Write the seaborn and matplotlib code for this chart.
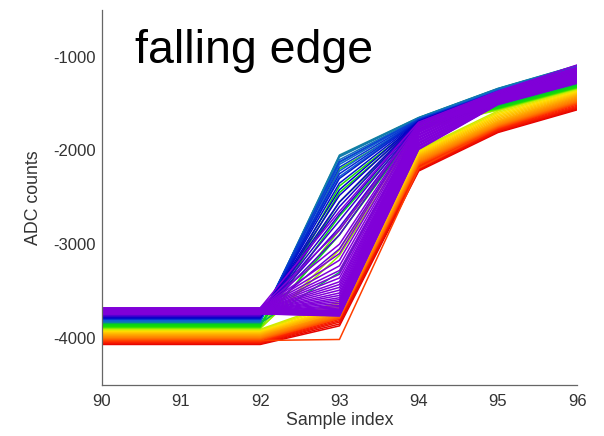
import matplotlib
matplotlib.use("Agg")
import matplotlib.pyplot as plt
from matplotlib.colors import LinearSegmentedColormap
import seaborn as sns
import pandas as pd

# ---- data (ADC counts) ----
# flat level at samples 90, 91, 92 for each trace
level = [
    # red
    -4068, -4062, -4056, -4050, -4044, -4038, -4032,
    # orange
    -4026, -4019, -4012, -4005, -3998, -3991, -3984, -3977, -3970, -3963,
    # yellow
    -3956, -3949, -3942, -3935, -3928, -3921, -3914, -3907,
    # yellow-green
    -3900, -3894, -3888,
    # green
    -3882, -3875, -3868, -3861, -3854, -3847, -3840,
    # teal
    -3833, -3830, -3826, -3819, -3816, -3812, -3808, -3805,
    # blue
    -3798, -3795, -3791, -3788, -3784, -3781, -3777, -3774, -3770, -3767,
    -3763, -3760, -3756, -3749,
    # violet
    -3742, -3741, -3739, -3736, -3735, -3733, -3730, -3729, -3727, -3724,
    -3723, -3721, -3718, -3717, -3715, -3712, -3711, -3709, -3706, -3705,
    -3703, -3700, -3699, -3697, -3694, -3693, -3691, -3688, -3687, -3685,
    -3682, -3681, -3679,
]
s93 = [
    -3870, -3850, -3830, -3815, -3800, -3785, -3770,
    -4015, -3790, -3780, -3770, -3760, -3750, -3740, -3730, -3720, -3710,
    -3720, -3700, -3690, -3680, -3670, -3650, -3630, -3610,
    -3060, -3120, -2850,
    -2200, -2380, -2450, -2550, -2700, -2900, -3300,
    -2050, -2060, -2070, -2100, -2130, -2150, -2280, -2220,
    -2120, -2180, -2250, -2300, -2350, -2420, -2480, -2550, -2600, -2680,
    -2750, -2820, -2900, -3050,
    -3765, -3760, -3755, -3750, -3745, -3740, -3735, -3725, -3715, -3705,
    -3695, -3680, -3665, -3650, -3630, -3610, -3590, -3570, -3545, -3520,
    -3490, -3460, -3430, -3400, -3360, -3320, -3280, -3230, -3170, -3100,
    -3000, -2850, -2650,
]
s94 = [
    -2220, -2210, -2200, -2190, -2180, -2170, -2160,
    -2190, -2150, -2140, -2130, -2120, -2110, -2100, -2090, -2080, -2070,
    -2060, -2050, -2040, -2030, -2020, -2010, -2000, -1990,
    -1760, -1780, -1740,
    -1700, -1710, -1720, -1730, -1740, -1750, -1770,
    -1650, -1652, -1655, -1660, -1664, -1668, -1680, -1675,
    -1670, -1675, -1680, -1685, -1690, -1692, -1695, -1698, -1700, -1705,
    -1710, -1715, -1720, -1730,
    -1990, -1985, -1975, -1960, -1952, -1945, -1930, -1922, -1915, -1900,
    -1892, -1885, -1870, -1862, -1855, -1840, -1832, -1825, -1810, -1805,
    -1800, -1790, -1785, -1780, -1770, -1765, -1760, -1745, -1738, -1730,
    -1722, -1715, -1700,
]
s95 = [
    -1810, -1800, -1795, -1788, -1780, -1772, -1765,
    -1760, -1755, -1748, -1740, -1732, -1725, -1718, -1710, -1700, -1690,
    -1685, -1670, -1655, -1640, -1625, -1610, -1595, -1580,
    -1572, -1566, -1560,
    -1555, -1550, -1545, -1540, -1535, -1528, -1520,
    -1340, -1342, -1345, -1350, -1355, -1358, -1368, -1365,
    -1370, -1372, -1375, -1378, -1380, -1382, -1385, -1388, -1390, -1392,
    -1395, -1398, -1400, -1410,
    -1512, -1508, -1505, -1498, -1494, -1491, -1484, -1480, -1477, -1470,
    -1466, -1463, -1456, -1452, -1449, -1442, -1438, -1435, -1428, -1424,
    -1421, -1414, -1410, -1407, -1400, -1396, -1393, -1386, -1383, -1380,
    -1377, -1375, -1370,
]
s96 = [
    -1568, -1560, -1550, -1540, -1530, -1518, -1505,
    -1500, -1495, -1488, -1480, -1470, -1460, -1450, -1440, -1430, -1420,
    -1412, -1403, -1394, -1385, -1376, -1367, -1358, -1348,
    -1345, -1340, -1335,
    -1330, -1325, -1320, -1315, -1308, -1300, -1292,
    -1095, -1098, -1100, -1105, -1108, -1110, -1120, -1118,
    -1125, -1128, -1130, -1132, -1135, -1138, -1140, -1145, -1150, -1155,
    -1160, -1165, -1170, -1180,
    -1285, -1280, -1275, -1265, -1260, -1255, -1246, -1241, -1237, -1228,
    -1224, -1220, -1212, -1208, -1204, -1196, -1192, -1188, -1180, -1176,
    -1172, -1164, -1160, -1156, -1148, -1144, -1140, -1132, -1128, -1124,
    -1118, -1115, -1090,
]
samples = [90, 91, 92, 93, 94, 95, 96]
xticks = [90, 91, 92, 93, 94, 95, 96]
yticks = [-4000, -3000, -2000, -1000]
title_text = "falling edge"

# ---- long-form table ----
rows = []
for i, lv in enumerate(level):
    vals = [lv, lv, lv, s93[i], s94[i], s95[i], s96[i]]
    for x, v in zip(samples, vals):
        rows.append({"trace": i, "level": lv, "sample": x, "adc": v})
df = pd.DataFrame(rows)

cmap = LinearSegmentedColormap.from_list(
    "spectrum",
    [(0.00, "#e40000"), (0.10, "#ff2800"), (0.22, "#ff7800"), (0.34, "#ffaa00"),
     (0.45, "#ffe000"), (0.52, "#b4f000"), (0.58, "#22e000"), (0.69, "#00d020"),
     (0.71, "#12889a"), (0.80, "#1060d8"), (0.88, "#0000c8"), (1.00, "#8000d8")],
)

sns.set_theme(style="white")
plt.rcParams["font.family"] = ["Liberation Sans", "DejaVu Sans"]
plt.rcParams["axes.unicode_minus"] = False

fig = plt.figure(figsize=(6.04, 4.36), dpi=100)
ax = fig.add_axes([0.1685, 0.117, 0.787, 0.861])

sns.lineplot(data=df, x="sample", y="adc", hue="level", units="trace",
             estimator=None, palette=cmap, hue_norm=(-4070, -3740),
             legend=False, linewidth=1.1, ax=ax)

ax.set_xlim(90, 96)
ax.set_ylim(-4500, -500)
ax.set_xticks(xticks)
ax.set_yticks(yticks)
ax.set_xlabel("Sample index", fontsize=12.8, color="#333333", labelpad=2)
ax.set_ylabel("ADC counts", fontsize=12.8, color="#333333", labelpad=8)
ax.tick_params(axis="both", direction="in", length=4, width=0.8,
               colors="#555555", labelcolor="#333333", labelsize=12)
ax.tick_params(axis="x", pad=6.5)
ax.tick_params(axis="y", pad=4.5)
for s in ["top", "right"]:
    ax.spines[s].set_visible(False)
for s in ["left", "bottom"]:
    ax.spines[s].set_color("#666666")
    ax.spines[s].set_linewidth(0.9)

ax.text(90.42, -1072, title_text, fontsize=33.5, color="black",
        ha="left", va="baseline")

fig.savefig("out.png", dpi=100)
